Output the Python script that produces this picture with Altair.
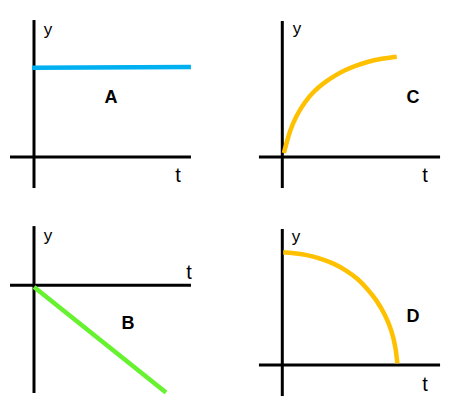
import altair as alt
import pandas as pd

# ---- data (units: one unit = 16 px, origin where the two axes cross) ----
# Panel A: constant
A_t = [-0.12, 9.81]
A_y = [5.58, 5.62]
A_taxis = [-1.5, 9.81]
A_yaxis = [-1.94, 8.56]
A_lab_t = [0.88, 9.0, 4.81]
A_lab_y = [7.95, -1.19, 3.69]

# Panel B: linear decrease
B_t = [0.0, 8.25]
B_y = [-0.1, -6.7]
B_taxis = [-1.5, 9.81]
B_yaxis = [-6.73, 3.7]
B_lab_t = [0.88, 9.69, 5.88]
B_lab_y = [3.1, 0.77, -2.42]

# Panel C: saturating growth
C_t = [0.1, 0.48, 0.9, 1.42, 1.94, 2.56, 3.29, 3.92, 4.54, 5.38, 6.21, 7.15]
C_y = [0.25, 1.69, 2.63, 3.46, 4.08, 4.61, 5.09, 5.43, 5.70, 5.97, 6.15, 6.27]
C_taxis = [-1.46, 9.86]
C_yaxis = [-1.94, 8.5]
C_lab_t = [0.92, 8.92, 8.17]
C_lab_y = [8.0, -1.19, 3.69]

# Panel D: quarter curve
D_t = [0.06, 0.69, 1.53, 2.36, 3.19, 4.03, 4.75, 5.28, 5.9, 6.42, 6.84, 7.09, 7.19]
D_y = [7.04, 7.0, 6.88, 6.67, 6.36, 5.90, 5.36, 4.80, 4.05, 3.15, 2.15, 1.1, 0.1]
D_taxis = [-1.46, 9.86]
D_yaxis = [-1.94, 8.5]
D_lab_t = [0.86, 8.92, 8.17]
D_lab_y = [8.0, -1.25, 3.0]

LABELS = ["y", "t"]
LETTERS = ["A", "B", "C", "D"]
COLORS = ["#00B0F0", "#66F22E", "#FFC000", "#FFC000"]

S = 16.0  # px per unit
FONT = "Liberation Sans"


def panel(W, H, px0, py0, ox, oy, t, y, taxis, yaxis, lab_t, lab_y,
          letter, color, interp):
    xs = alt.Scale(domain=[(px0 - ox) / S, (px0 + W - ox) / S], nice=False, zero=False)
    ys = alt.Scale(domain=[(oy - (py0 + H)) / S, (oy - py0) / S], nice=False, zero=False)

    axes = pd.DataFrame({
        "t0": [taxis[0], 0.0], "t1": [taxis[1], 0.0],
        "y0": [0.0, yaxis[0]], "y1": [0.0, yaxis[1]],
    })
    curve = pd.DataFrame({"t": t, "y": y, "i": list(range(len(t)))})
    names = pd.DataFrame({"t": lab_t[:2], "y": lab_y[:2], "s": LABELS})
    let = pd.DataFrame({"t": [lab_t[2]], "y": [lab_y[2]], "s": [letter]})

    rules = alt.Chart(axes).mark_rule(color="black", strokeWidth=3).encode(
        x=alt.X("t0:Q", scale=xs, axis=None),
        x2="t1:Q",
        y=alt.Y("y0:Q", scale=ys, axis=None),
        y2="y1:Q",
    )
    line = alt.Chart(curve).mark_line(color=color, strokeWidth=4.5,
                                      interpolate=interp).encode(
        x=alt.X("t:Q", scale=xs, axis=None),
        y=alt.Y("y:Q", scale=ys, axis=None),
        order="i:Q",
    )
    txt = alt.Chart(names).mark_text(font=FONT, fontSize=17, color="black",
                                     baseline="middle", align="center").encode(
        x=alt.X("t:Q", scale=xs, axis=None),
        y=alt.Y("y:Q", scale=ys, axis=None),
        text="s:N",
        size=alt.condition(alt.datum.s == "t", alt.value(20), alt.value(17)),
    )
    big = alt.Chart(let).mark_text(font=FONT, fontSize=18, fontWeight="bold",
                                   color="black", baseline="middle",
                                   align="center").encode(
        x=alt.X("t:Q", scale=xs, axis=None),
        y=alt.Y("y:Q", scale=ys, axis=None),
        text="s:N",
    )
    return alt.layer(rules, line, txt, big).properties(width=W, height=H)


pA = panel(225, 202, 8, 8, 34, 157, A_t, A_y, A_taxis, A_yaxis, A_lab_t, A_lab_y,
           LETTERS[0], COLORS[0], "linear")
pC = panel(226, 202, 233, 8, 282.3, 157, C_t, C_y, C_taxis, C_yaxis, C_lab_t, C_lab_y,
           LETTERS[2], COLORS[2], "basis")
pB = panel(225, 201, 8, 210, 34, 285.3, B_t, B_y, B_taxis, B_yaxis, B_lab_t, B_lab_y,
           LETTERS[1], COLORS[1], "linear")
pD = panel(226, 201, 233, 210, 282.3, 365, D_t, D_y, D_taxis, D_yaxis, D_lab_t, D_lab_y,
           LETTERS[3], COLORS[3], "basis")

chart = alt.vconcat(
    alt.hconcat(pA, pC, spacing=0),
    alt.hconcat(pB, pD, spacing=0),
    spacing=0,
).configure_view(stroke=None).properties(padding=0, background="white")

chart.save("out.html", embed_options={"renderer": "svg", "actions": False})
